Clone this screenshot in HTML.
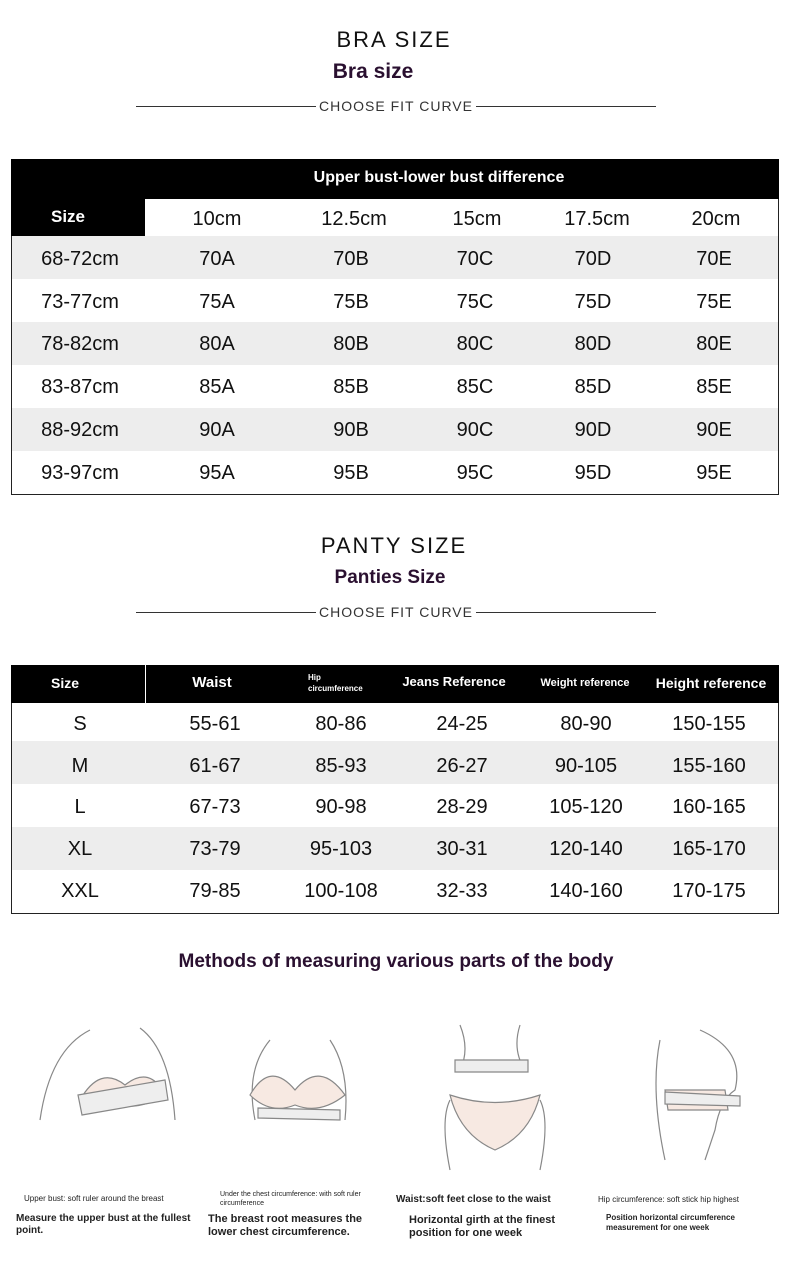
<!DOCTYPE html>
<html><head><meta charset="utf-8"><style>
body{margin:0;width:790px;height:1266px;background:#fff;position:relative;font-family:"Liberation Sans",sans-serif;overflow:hidden}
.a{position:absolute}
.c{position:absolute;transform:translateX(-50%);white-space:nowrap;z-index:2}
.t1{font-size:20px;color:#111}
.t2{font-size:20px;color:#111}
</style></head><body>
<div class="c" style="left:394px;top:27px;font-size:22px;letter-spacing:2px;color:#111">BRA SIZE</div>
<div class="c" style="left:373px;top:60px;font-size:21px;font-weight:bold;color:#2a1030">Bra size</div>
<div class="a" style="left:136px;top:106px;width:180px;height:1px;background:#333"></div>
<div class="a" style="left:476px;top:106px;width:180px;height:1px;background:#333"></div>
<div class="c" style="left:396px;top:98px;font-size:14px;letter-spacing:1px;color:#333">CHOOSE FIT CURVE</div>

<div class="a" style="left:12px;top:236px;width:766px;height:43px;background:#ededed"></div>
<div class="a" style="left:12px;top:322px;width:766px;height:43px;background:#ededed"></div>
<div class="a" style="left:12px;top:408px;width:766px;height:43px;background:#ededed"></div>
<div class="a" style="left:11px;top:159px;width:766px;height:334px;border:1px solid #222"></div>
<div class="a" style="left:11px;top:159px;width:768px;height:40px;background:#000"></div>
<div class="c" style="left:439px;top:169px;color:#fff;font-weight:bold;font-size:16px">Upper bust-lower bust difference</div>
<div class="a" style="left:11px;top:199px;width:134px;height:37px;background:#000"></div>
<div class="c" style="left:68px;top:207px;color:#fff;font-weight:bold;font-size:17px">Size</div>
<div class="c t1" style="left:217px;top:208px">10cm</div>
<div class="c t1" style="left:354px;top:208px">12.5cm</div>
<div class="c t1" style="left:477px;top:208px">15cm</div>
<div class="c t1" style="left:597px;top:208px">17.5cm</div>
<div class="c t1" style="left:716px;top:208px">20cm</div>

<div class="c" style="left:394px;top:533px;font-size:22px;letter-spacing:2px;color:#111">PANTY SIZE</div>
<div class="c" style="left:390px;top:567px;font-size:19px;font-weight:bold;color:#2a1030">Panties Size</div>
<div class="a" style="left:136px;top:612px;width:180px;height:1px;background:#333"></div>
<div class="a" style="left:476px;top:612px;width:180px;height:1px;background:#333"></div>
<div class="c" style="left:396px;top:604px;font-size:14px;letter-spacing:1px;color:#333">CHOOSE FIT CURVE</div>

<div class="a" style="left:12px;top:741px;width:766px;height:43px;background:#ededed"></div>
<div class="a" style="left:12px;top:827px;width:766px;height:43px;background:#ededed"></div>
<div class="a" style="left:11px;top:665px;width:766px;height:247px;border:1px solid #222"></div>
<div class="a" style="left:11px;top:665px;width:768px;height:38px;background:#000"></div>
<div class="a" style="left:145px;top:665px;width:1px;height:38px;background:#fff"></div>
<div class="c" style="left:65px;top:675px;color:#fff;font-weight:bold;font-size:14px">Size</div>
<div class="c" style="left:212px;top:674px;color:#fff;font-weight:bold;font-size:15px">Waist</div>
<div class="a" style="left:308px;top:672px;color:#fff;font-weight:bold;font-size:8px;line-height:11px">Hip<br>circumference</div>
<div class="c" style="left:454px;top:674px;color:#fff;font-weight:bold;font-size:13px">Jeans Reference</div>
<div class="c" style="left:585px;top:677px;color:#fff;font-weight:bold;font-size:11px">Weight reference</div>
<div class="c" style="left:711px;top:675px;color:#fff;font-weight:bold;font-size:14px">Height reference</div>

<div id="r1"></div>
<script>
var sz=["68-72cm","73-77cm","78-82cm","83-87cm","88-92cm","93-97cm"],n=[70,75,80,85,90,95],L="ABCDE",xs=[217,351,475,593,714],h="";
for(var i=0;i<6;i++){var y=248+i*42.7;h+='<div class="c t1" style="left:80px;top:'+y+'px">'+sz[i]+'</div>';for(var j=0;j<5;j++)h+='<div class="c t1" style="left:'+xs[j]+'px;top:'+y+'px">'+n[i]+L[j]+'</div>';}
var s=["S","M","L","XL","XXL"],w=["55-61","61-67","67-73","73-79","79-85"],hp=["80-86","85-93","90-98","95-103","100-108"],jn=["24-25","26-27","28-29","30-31","32-33"],wt=["80-90","90-105","105-120","120-140","140-160"],ht=["150-155","155-160","160-165","165-170","170-175"],x2=[80,215,341,462,586,709];
for(var i=0;i<5;i++){var y=713+i*41.7;var v=[s[i],w[i],hp[i],jn[i],wt[i],ht[i]];for(var j=0;j<6;j++)h+='<div class="c t2" style="left:'+x2[j]+'px;top:'+y+'px">'+v[j]+'</div>';}
document.getElementById("r1").innerHTML=h;
</script>

<div class="c" style="left:396px;top:951px;font-size:19px;font-weight:bold;color:#2a1030">Methods of measuring various parts of the body</div>

<svg class="a" style="left:0;top:1010px" width="790" height="170" fill="none" stroke="#888" stroke-width="1.2">
<path d="M40 110 Q50 40 90 20 M140 18 Q170 40 175 110"/>
<path d="M80 90 Q100 55 125 75 Q150 55 165 85 Q140 100 120 95 Q100 100 80 90Z" fill="#f7e9e2"/>
<path d="M78 85 L165 70 L168 90 L82 105Z" fill="#eee"/>
<path d="M255 110 Q245 60 270 30 M330 30 Q350 60 345 110"/>
<path d="M250 85 Q270 50 295 80 Q320 50 345 85 Q320 105 295 95 Q270 105 250 85Z" fill="#f7e9e2"/>
<path d="M258 98 L340 100 L340 110 L258 108Z" fill="#eee"/>
<path d="M460 15 Q470 40 460 60 M520 15 Q512 40 525 60 M450 90 Q440 110 450 160 M540 90 Q550 110 540 160"/>
<path d="M455 50 L528 50 L528 62 L455 62Z" fill="#eee"/>
<path d="M450 85 Q495 100 540 85 Q530 125 495 140 Q460 125 450 85Z" fill="#f7e9e2"/>
<path d="M660 30 Q650 80 665 150 M700 20 Q745 40 735 80 Q720 90 715 120 L705 150"/>
<path d="M665 80 L725 80 L728 100 L668 100Z" fill="#f7e9e2"/>
<path d="M665 82 L740 86 L740 96 L665 94Z" fill="#eee"/>
</svg>

<div class="a" style="left:24px;top:1194px;font-size:8px;color:#222">Upper bust: soft ruler around the breast</div>
<div class="a" style="left:16px;top:1213px;font-size:10px;font-weight:bold;color:#222;line-height:12px;width:185px">Measure the upper bust at the fullest point.</div>
<div class="a" style="left:220px;top:1190px;font-size:7px;color:#222;line-height:9px;width:160px">Under the chest circumference: with soft ruler circumference</div>
<div class="a" style="left:208px;top:1213px;font-size:11px;font-weight:bold;color:#222;line-height:13px;width:180px">The breast root measures the lower chest circumference.</div>
<div class="a" style="left:396px;top:1194px;font-size:10px;font-weight:bold;color:#222">Waist:soft feet close to the waist</div>
<div class="a" style="left:409px;top:1214px;font-size:11px;font-weight:bold;color:#222;line-height:13px;width:180px">Horizontal girth at the finest position for one week</div>
<div class="a" style="left:598px;top:1195px;font-size:8px;color:#222">Hip circumference: soft stick hip highest</div>
<div class="a" style="left:606px;top:1213px;font-size:8px;font-weight:bold;color:#222;line-height:10px;width:150px">Position horizontal circumference measurement for one week</div>
</body></html>
